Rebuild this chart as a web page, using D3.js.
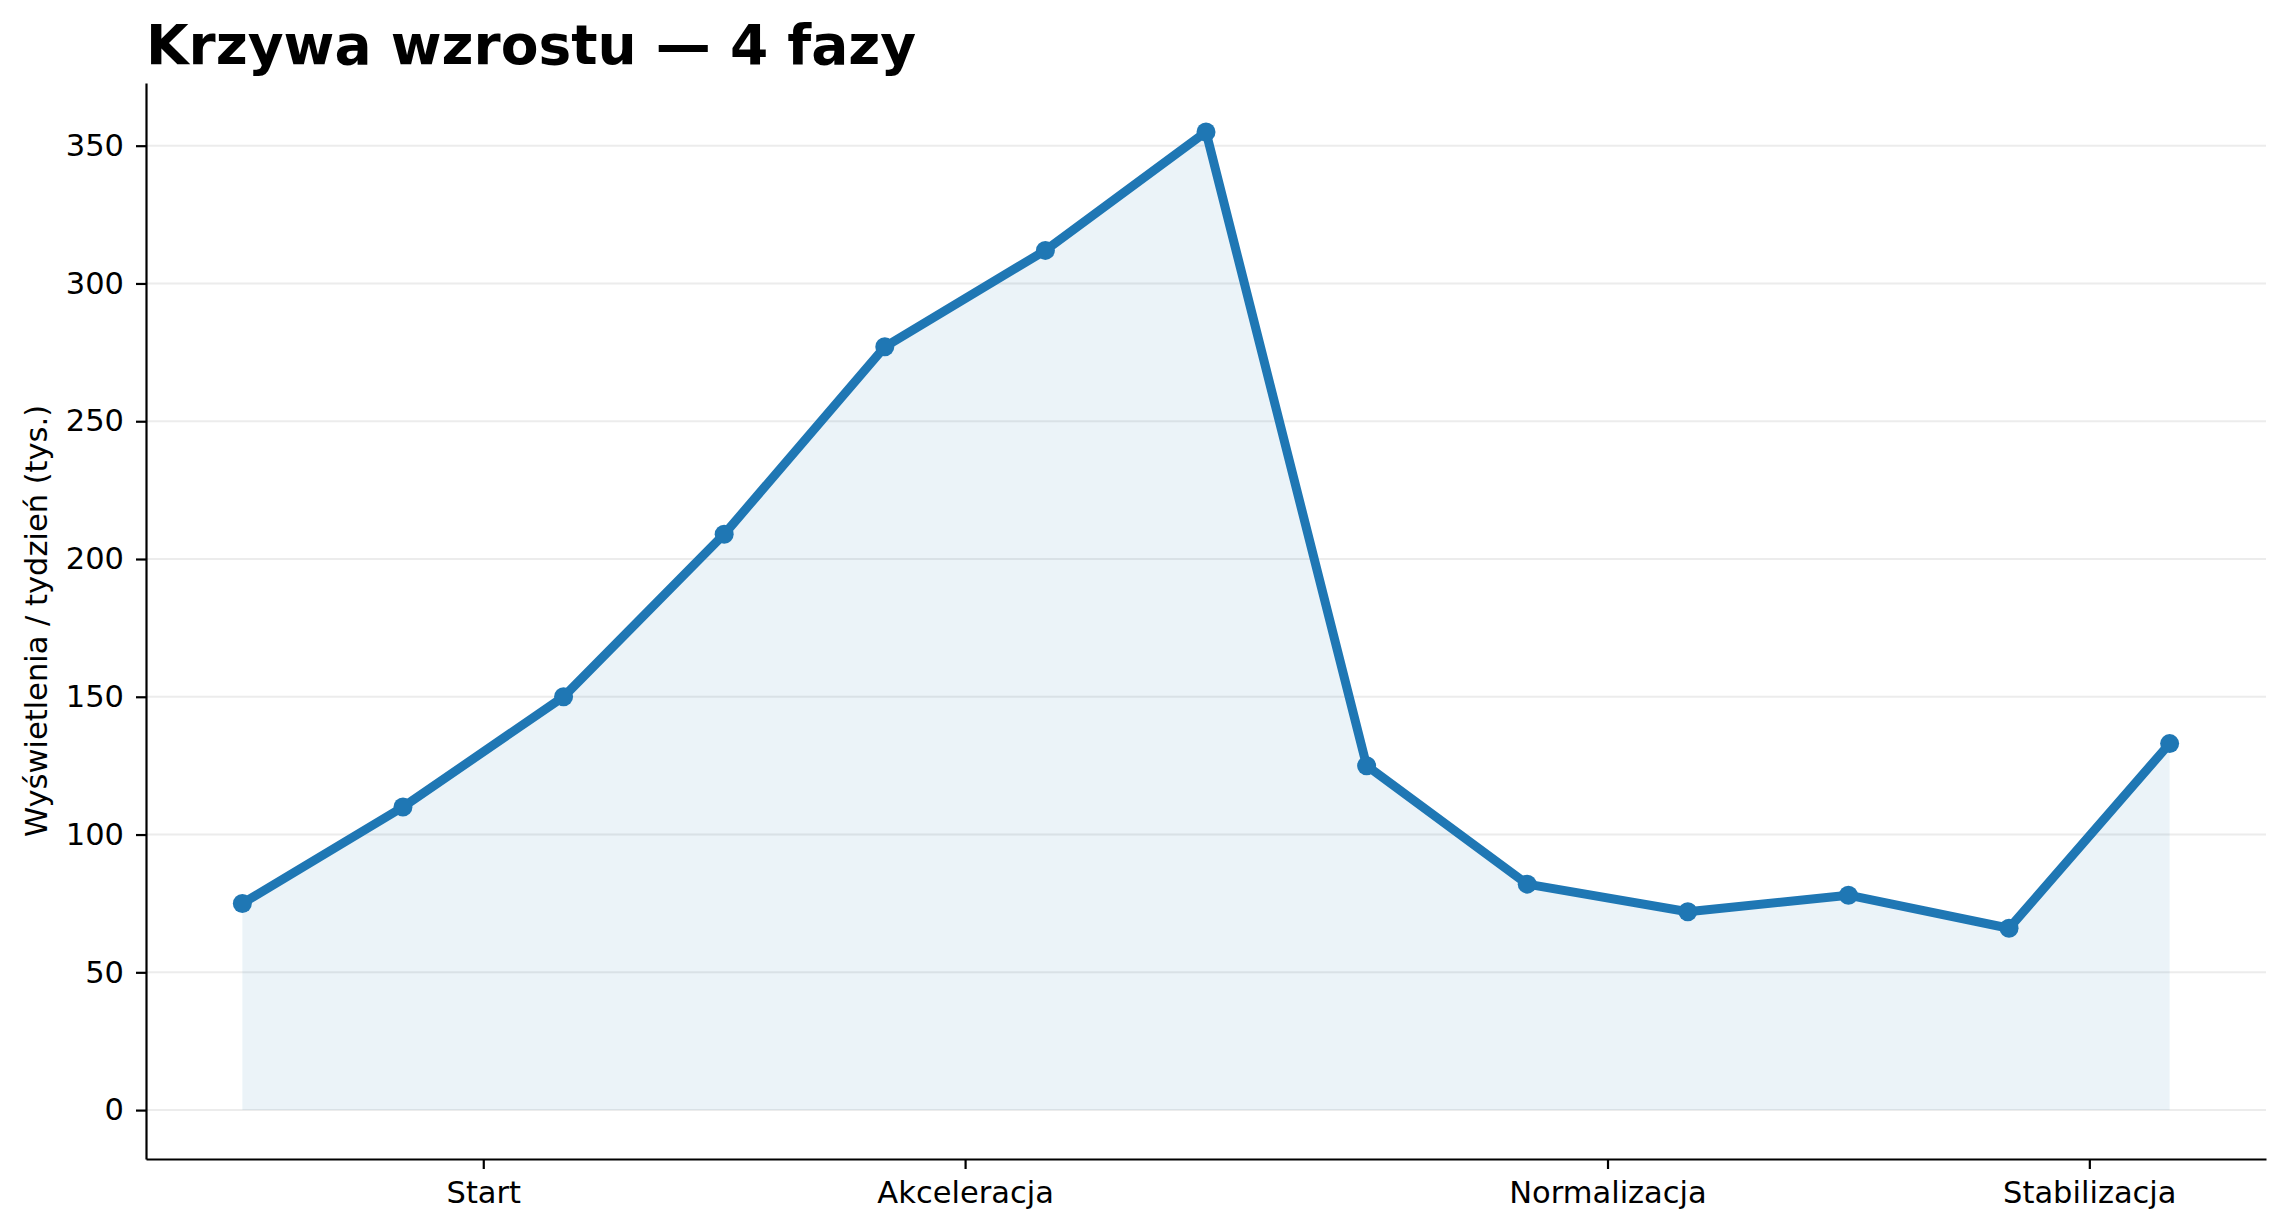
<!DOCTYPE html>
<html>
<head>
<meta charset="utf-8">
<script src="https://cdn.jsdelivr.net/npm/d3@7"></script>
<style>
  body { margin: 0; background: #fff; }
  svg { display: block; font-family: "DejaVu Sans", sans-serif; }
</style>
</head>
<body>
<script>
// Chart data
const weeks = [0, 1, 2, 3, 4, 5, 6, 7, 8, 9, 10, 11, 12];
const views = [75, 110, 150, 209, 277, 312, 355, 125, 82, 72, 78, 66, 133];
const phaseLabels = ["Start", "Akceleracja", "Normalizacja", "Stabilizacja"];
const phaseCenters = [1.5, 4.5, 8.5, 11.5];
const yTicks = [0, 50, 100, 150, 200, 250, 300, 350];

// Dimensions
const w = 2287;
const h = 1231;
const marginTop = 83;
const marginRight = 21;
const marginBottom = 72;
const marginLeft = 146;
const color = "#1f77b4";

const svg = d3
  .select("body")
  .append("svg")
  .attr("width", w)
  .attr("height", h);

const xScale = d3
  .scaleLinear()
  .domain([-0.6, 12.6])
  .range([marginLeft, w - marginRight]);

const yMax = d3.max(views);
const yScale = d3
  .scaleLinear()
  .domain([-yMax * 0.05, yMax * 1.05])
  .range([h - marginBottom, marginTop]);

// grid lines
svg
  .append("g")
  .selectAll("line")
  .data(yTicks)
  .enter()
  .append("line")
  .attr("x1", marginLeft)
  .attr("x2", w - marginRight)
  .attr("y1", (d) => yScale(d))
  .attr("y2", (d) => yScale(d))
  .attr("stroke", "#ececec")
  .attr("stroke-width", 2);

// shaded area under the curve
const area = d3
  .area()
  .x((d, i) => xScale(weeks[i]))
  .y0(yScale(0))
  .y1((d) => yScale(d));

svg
  .append("path")
  .datum(views)
  .attr("d", area)
  .attr("fill", color)
  .attr("fill-opacity", 0.09);

// line
const line = d3
  .line()
  .x((d, i) => xScale(weeks[i]))
  .y((d) => yScale(d));

svg
  .append("path")
  .datum(views)
  .attr("d", line)
  .attr("fill", "none")
  .attr("stroke", color)
  .attr("stroke-width", 9)
  .attr("stroke-linejoin", "round");

// markers
svg
  .selectAll("circle")
  .data(views)
  .enter()
  .append("circle")
  .attr("cx", (d, i) => xScale(weeks[i]))
  .attr("cy", (d) => yScale(d))
  .attr("r", 9.5)
  .attr("fill", color);

// x axis
svg
  .append("g")
  .attr("transform", `translate(0,${h - marginBottom})`)
  .call(
    d3
      .axisBottom(xScale)
      .tickValues(phaseCenters)
      .tickFormat((d, i) => phaseLabels[i])
      .tickSizeInner(10)
      .tickSizeOuter(0)
      .tickPadding(12)
  )
  .call((g) => {
    g.select(".domain").attr("stroke", "#000").attr("stroke-width", 2.2);
    g.selectAll(".tick line").attr("stroke", "#000").attr("stroke-width", 2.2);
    g.selectAll(".tick text")
      .attr("fill", "#000")
      .attr("font-size", "30.5px")
      .attr("font-family", "DejaVu Sans");
  });

// y axis
svg
  .append("g")
  .attr("transform", `translate(${marginLeft},0)`)
  .call(
    d3
      .axisLeft(yScale)
      .tickValues(yTicks)
      .tickSizeInner(10)
      .tickSizeOuter(0)
      .tickPadding(12)
  )
  .call((g) => {
    g.select(".domain").attr("stroke", "#000").attr("stroke-width", 2.2);
    g.selectAll(".tick line").attr("stroke", "#000").attr("stroke-width", 2.2);
    g.selectAll(".tick text")
      .attr("fill", "#000")
      .attr("font-size", "30.5px")
      .attr("font-family", "DejaVu Sans");
  });

// y label
svg
  .append("text")
  .attr("transform", `translate(36,${(marginTop + h - marginBottom) / 2}) rotate(-90)`)
  .attr("text-anchor", "middle")
  .attr("dominant-baseline", "central")
  .attr("font-size", "30.5px")
  .attr("fill", "#000")
  .text("Wyświetlenia / tydzień (tys.)");

// title
svg
  .append("text")
  .attr("x", marginLeft)
  .attr("y", 64)
  .attr("font-size", "55px")
  .attr("font-weight", "bold")
  .attr("fill", "#000")
  .text("Krzywa wzrostu — 4 fazy");
</script>
</body>
</html>
